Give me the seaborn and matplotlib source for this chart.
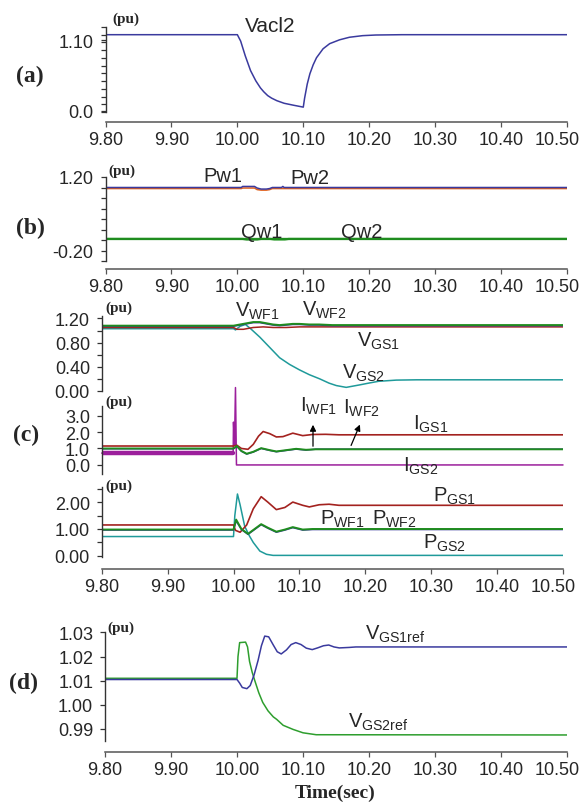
"""
Recreation of a four-panel transient response chart (Vacl2, wind farm / grid side
powers, voltages and currents, and GS voltage references) using seaborn.
"""

import numpy as np
import matplotlib
matplotlib.use('Agg')
import matplotlib.pyplot as plt
import seaborn as sns

# Figure size in pixels
W, H = 583, 804

# ---------------------------------------------------------------- data
XTICKS = [9.80, 9.90, 10.00, 10.10, 10.20, 10.30, 10.40, 10.50]
XTICK_LABELS = ['9.80', '9.90', '10.00', '10.10', '10.20', '10.30', '10.40', '10.50']

# (a) Vacl2
vacl_t = [9.80, 10.000, 10.005, 10.012, 10.020, 10.028, 10.035, 10.040, 10.046, 10.052,
          10.060, 10.071, 10.085, 10.100, 10.102, 10.106, 10.110, 10.115, 10.120, 10.130,
          10.140, 10.155, 10.170, 10.190, 10.210, 10.250, 10.500]
vacl_v = [1.19, 1.19, 1.09, 0.86, 0.63, 0.47, 0.36, 0.30, 0.24, 0.20,
          0.16, 0.12, 0.09, 0.06, 0.20, 0.42, 0.58, 0.72, 0.83, 0.97,
          1.05, 1.11, 1.15, 1.175, 1.185, 1.19, 1.19]

# (b) Pw1, Pw2, Qw1, Qw2
pw_t = [9.80, 10.006, 10.008, 10.026, 10.030, 10.036, 10.044, 10.049, 10.053, 10.067,
        10.069, 10.071, 10.50]
pw1 = [1.00, 1.00, 1.02, 1.02, 0.99, 0.97, 0.97, 0.98, 1.00, 1.00, 1.02, 1.00, 1.00]
pw2 = [0.98, 0.98, 0.99, 0.99, 0.96, 0.95, 0.95, 0.96, 0.98, 0.98, 0.98, 0.98, 0.98]
qw_t = [9.80, 10.008, 10.014, 10.030, 10.036, 10.050, 10.056, 10.072, 10.078, 10.50]
qw1 = [0.02, 0.02, 0.01, 0.01, 0.02, 0.02, 0.02, 0.02, 0.02, 0.02]
qw2 = [0.02, 0.02, 0.02, 0.02, 0.02, 0.02, 0.01, 0.01, 0.02, 0.02]

# (c) voltages
vwf_t = [9.80, 10.000, 10.010, 10.020, 10.030, 10.040, 10.050, 10.060, 10.070, 10.080,
         10.090, 10.100, 10.115, 10.130, 10.150, 10.500]
vwf1 = [1.08, 1.08, 1.10, 1.12, 1.14, 1.14, 1.12, 1.10, 1.09, 1.10,
        1.11, 1.11, 1.10, 1.10, 1.09, 1.09]
vwf2 = [1.07, 1.07, 1.09, 1.11, 1.13, 1.13, 1.11, 1.09, 1.08, 1.09,
        1.10, 1.10, 1.09, 1.09, 1.08, 1.08]
vgs1_t = [9.80, 10.000, 10.005, 10.015, 10.030, 10.045, 10.060, 10.080, 10.100, 10.500]
vgs1 = [1.05, 1.05, 1.02, 1.02, 1.05, 1.06, 1.05, 1.05, 1.06, 1.06]
vgs2_t = [9.80, 10.000, 10.003, 10.010, 10.018, 10.025, 10.040, 10.055, 10.070, 10.085,
          10.100, 10.115, 10.131, 10.145, 10.156, 10.171, 10.191, 10.205, 10.220, 10.247,
          10.278, 10.500]
vgs2 = [1.03, 1.03, 1.01, 1.07, 1.10, 1.04, 0.89, 0.72, 0.55, 0.44,
        0.35, 0.27, 0.20, 0.13, 0.09, 0.06, 0.10, 0.13, 0.16, 0.18,
        0.185, 0.185]

# (c) currents
igs1_t = [9.80, 10.000, 10.005, 10.012, 10.022, 10.030, 10.038, 10.045, 10.055, 10.065,
          10.075, 10.090, 10.105, 10.120, 10.140, 10.160, 10.500]
igs1 = [1.15, 1.15, 1.20, 1.00, 0.95, 1.25, 1.75, 2.03, 1.90, 1.70,
        1.72, 1.93, 1.78, 1.85, 1.86, 1.83, 1.83]
iwf_t = [9.80, 10.000, 10.005, 10.012, 10.020, 10.030, 10.042, 10.055, 10.065, 10.080,
         10.095, 10.110, 10.125, 10.500]
iwf1 = [1.00, 1.00, 1.15, 0.85, 0.68, 0.80, 1.02, 0.90, 0.82, 0.90, 0.98, 0.92, 0.95, 0.95]
iwf2 = [0.98, 0.98, 1.13, 0.83, 0.66, 0.78, 1.00, 0.88, 0.80, 0.88, 0.96, 0.90, 0.96, 0.96]
igs2_t = [9.80, 9.9995, 10.000, 10.0015, 10.003, 10.0045, 10.500]
igs2 = [0.72, 0.72, 2.6, 1.2, 4.7, 0.0, 0.0]

# (c) powers
pgs1_t = [9.80, 10.000, 10.003, 10.010, 10.020, 10.030, 10.042, 10.052, 10.065, 10.078,
          10.090, 10.105, 10.115, 10.130, 10.145, 10.160, 10.500]
pgs1 = [1.15, 1.15, 0.95, 0.88, 1.15, 1.75, 2.20, 2.00, 1.72, 1.80,
        2.00, 1.88, 1.82, 1.90, 1.92, 1.88, 1.88]
pwf_t = [9.80, 10.000, 10.004, 10.012, 10.022, 10.032, 10.042, 10.052, 10.065, 10.078,
         10.090, 10.105, 10.120, 10.500]
pwf1 = [0.98, 0.98, 1.35, 1.00, 0.82, 1.00, 1.18, 1.05, 0.90, 0.98, 1.07, 0.98, 1.00, 1.00]
pwf2 = [0.96, 0.96, 1.30, 0.98, 0.80, 0.98, 1.16, 1.03, 0.88, 0.96, 1.05, 0.96, 0.98, 0.98]
pgs2_t = [9.80, 10.000, 10.002, 10.006, 10.010, 10.017, 10.024, 10.030, 10.040, 10.050,
          10.060, 10.500]
pgs2 = [0.72, 0.72, 1.50, 2.30, 1.90, 1.10, 0.75, 0.50, 0.18, 0.06, 0.02, 0.02]

# (d) GS voltage references
vref1_t = [9.80, 10.000, 10.004, 10.008, 10.015, 10.020, 10.026, 10.032, 10.037, 10.042,
           10.048, 10.055, 10.061, 10.067, 10.075, 10.082, 10.089, 10.097, 10.105, 10.114,
           10.122, 10.131, 10.139, 10.147, 10.155, 10.170, 10.180, 10.500]
vref1 = [1.0105, 1.0105, 1.0090, 1.0072, 1.0067, 1.0080, 1.0125, 1.0185, 1.0245, 1.0285,
         1.0282, 1.0248, 1.0220, 1.0211, 1.0228, 1.0250, 1.0258, 1.0250, 1.0235, 1.0229,
         1.0236, 1.0245, 1.0248, 1.0240, 1.0236, 1.0238, 1.0240, 1.0240]
vref2_t = [9.80, 10.000, 10.0015, 10.004, 10.013, 10.016, 10.019, 10.023, 10.027, 10.033,
           10.039, 10.047, 10.055, 10.060, 10.070, 10.085, 10.100, 10.120, 10.500]
vref2 = [1.0110, 1.0110, 1.0200, 1.0258, 1.0260, 1.0240, 1.0180, 1.0135, 1.0100, 1.0050,
         1.0010, 0.9975, 0.9950, 0.9940, 0.9915, 0.9898, 0.9884, 0.9876, 0.9875]

# ---------------------------------------------------------------- colours
BLUE = '#3a3a9e'
ORANGE = '#e0601c'
GREEN = '#1f8c1f'
LGREEN = '#2e9e2e'
RED = '#a3221f'
TEAL = '#1f9a9a'
PURPLE = '#9c1f9c'

SANS = 'Liberation Sans'
SERIF = 'Liberation Serif'


def px_rect(x0, x1, y_top, y_bot):
    """Axes rectangle from pixel edges (y measured from the top)"""
    return [x0 / W, 1 - y_bot / H, (x1 - x0) / W, (y_bot - y_top) / H]


def fig_text(fig, x, y, s, size=14.5, family=SANS, weight='normal', ha='left'):
    """Place text at pixel position (y from top), vertically centred"""
    fig.text(x / W, 1 - y / H, s, fontsize=size, family=family, weight=weight,
             ha=ha, va='center')


def line(ax, t, v, color, lw=1.0, **kw):
    sns.lineplot(x=t, y=v, ax=ax, color=color, linewidth=lw, estimator=None,
                 sort=False, **kw)


def style_axis(ax, ylim, major, labels, minor=None, xaxis_px=None):
    """Left spine only, optional detached time axis below"""
    ax.set_xlim(9.80, 10.50)
    ax.set_ylim(ylim)
    ax.patch.set_alpha(0)
    for side in ['top', 'right']:
        ax.spines[side].set_visible(False)
    ax.spines['left'].set_color('#333333')
    ax.spines['left'].set_linewidth(1.0)
    ax.set_yticks(major)
    ax.set_yticklabels(labels)
    if minor is not None:
        ax.set_yticks(minor, minor=True)
    ax.tick_params(axis='y', which='both', direction='out', length=3.5, width=0.9,
                   color='#333333', labelsize=13, pad=5)
    ax.set_xlabel('')
    ax.set_ylabel('')
    if xaxis_px is None:
        ax.spines['bottom'].set_visible(False)
        ax.tick_params(axis='x', bottom=False, labelbottom=False)
    else:
        ax.spines['bottom'].set_position(('outward', xaxis_px * 72 / 100))
        ax.spines['bottom'].set_color('#555555')
        ax.spines['bottom'].set_linewidth(1.1)
        ax.set_xticks(XTICKS)
        ax.set_xticklabels(XTICK_LABELS)
        ax.tick_params(axis='x', direction='out', length=3.5, width=0.9,
                       color='#555555', labelsize=13, pad=3)
        # keep the last label inside the picture
        last = ax.get_xticklabels()[-1]
        last.set_ha('right')
        last.set_transform(last.get_transform() +
                           matplotlib.transforms.ScaledTranslation(13 / 100, 0, ax.figure.dpi_scale_trans))
    for lab in ax.get_yticklabels() + ax.get_xticklabels():
        lab.set_family(SANS)


def main():
    sns.set_style('ticks')
    plt.rcParams['font.family'] = [SANS, 'DejaVu Sans']
    plt.rcParams['mathtext.fontset'] = 'custom'
    plt.rcParams['mathtext.rm'] = SANS
    plt.rcParams['mathtext.it'] = SANS + ':italic'

    fig = plt.figure(figsize=(W / 100, H / 100), dpi=100)
    fig.patch.set_facecolor('white')

    # (a) Vacl2
    ax_a = fig.add_axes(px_rect(105.5, 567, 28, 113))
    line(ax_a, vacl_t, vacl_v, BLUE, 1.1)
    style_axis(ax_a, (-0.016, 1.31), [0.0, 1.10], ['0.0', '1.10'],
               minor=np.linspace(-0.016, 1.31, 12), xaxis_px=10)

    # (b) Pw / Qw
    ax_b = fig.add_axes(px_rect(105.5, 567, 178, 262))
    line(ax_b, pw_t, pw2, ORANGE, 1.1)
    line(ax_b, pw_t, pw1, BLUE, 1.1)
    line(ax_b, qw_t, qw2, LGREEN, 1.6)
    line(ax_b, qw_t, qw1, GREEN, 1.6)
    style_axis(ax_b, (-0.4, 1.2), [-0.2, 1.2], ['-0.20', '1.20'],
               minor=np.arange(-0.4, 1.21, 0.2), xaxis_px=8)

    # (c) voltages
    ax_c1 = fig.add_axes(px_rect(101.7, 563, 317, 392))
    line(ax_c1, vgs2_t, vgs2, TEAL, 1.1)
    line(ax_c1, vgs1_t, vgs1, RED, 1.1)
    line(ax_c1, vwf_t, vwf2, BLUE, 1.1)
    line(ax_c1, vwf_t, vwf1, GREEN, 1.4)
    style_axis(ax_c1, (0.0, 1.24), [0.0, 0.4, 0.8, 1.2], ['0.00', '0.40', '0.80', '1.20'],
               minor=np.arange(0.0, 1.21, 0.2))

    # (c) currents
    ax_c2 = fig.add_axes(px_rect(101.7, 563, 407, 475))
    line(ax_c2, igs2_t, igs2, PURPLE, 1.1, clip_on=False)
    ax_c2.lines[-1].set_clip_on(False)
    # noisy pre-fault band of I_GS2 drawn as a thick stroke
    line(ax_c2, igs2_t[:2], igs2[:2], PURPLE, 3.2)
    line(ax_c2, igs1_t, igs1, RED, 1.2)
    line(ax_c2, iwf_t, iwf2, BLUE, 1.1)
    line(ax_c2, iwf_t, iwf1, GREEN, 1.4)
    style_axis(ax_c2, (-0.55, 3.58), [0, 1, 2, 3], ['0.0', '1.0', '2.0', '3.0'])

    # (c) powers
    ax_c3 = fig.add_axes(px_rect(101.7, 563, 488, 558))
    line(ax_c3, pgs2_t, pgs2, TEAL, 1.1)
    line(ax_c3, pgs1_t, pgs1, RED, 1.2)
    line(ax_c3, pwf_t, pwf2, BLUE, 1.1)
    line(ax_c3, pwf_t, pwf1, GREEN, 1.4)
    style_axis(ax_c3, (-0.04, 2.56), [0, 1, 2], ['0.00', '1.00', '2.00'],
               minor=[0.5, 1.5, 2.5], xaxis_px=12)

    # (d) references
    ax_d = fig.add_axes(px_rect(105, 567, 633, 742))
    line(ax_d, vref2_t, vref2, LGREEN, 1.1)
    line(ax_d, vref1_t, vref1, BLUE, 1.1)
    style_axis(ax_d, (0.985, 1.0302), [0.99, 1.00, 1.01, 1.02, 1.03],
               ['0.99', '1.00', '1.01', '1.02', '1.03'], xaxis_px=11)

    # panel letters and units
    for s, x, y in [('(a)', 30, 76), ('(b)', 30, 228), ('(c)', 26, 435), ('(d)', 24, 683)]:
        fig_text(fig, x, y, s, size=17, family=SERIF, weight='bold', ha='center')
    for x, y in [(112, 19), (108, 171), (105, 308), (105, 402), (105, 486), (107, 628)]:
        fig_text(fig, x, y, '(pu)', size=11, family=SERIF, weight='bold')
    fig_text(fig, 335, 793, 'Time(sec)', size=14, family=SERIF, weight='bold', ha='center')

    # curve labels
    fig_text(fig, 245, 27, 'Vacl2', size=15)
    fig_text(fig, 203, 176, 'Pw1')
    fig_text(fig, 290, 179, 'Pw2')
    fig_text(fig, 241, 232, 'Qw1')
    fig_text(fig, 341, 232, 'Qw2')

    fig_text(fig, 235, 311, r'$\mathrm{V}_{\mathrm{WF1}}$')
    fig_text(fig, 302, 310, r'$\mathrm{V}_{\mathrm{WF2}}$')
    fig_text(fig, 357, 341, r'$\mathrm{V}_{\mathrm{GS1}}$')
    fig_text(fig, 342, 373, r'$\mathrm{V}_{\mathrm{GS2}}$')

    fig_text(fig, 300, 406, r'$\mathrm{I}_{\mathrm{WF1}}$')
    fig_text(fig, 343, 408, r'$\mathrm{I}_{\mathrm{WF2}}$')
    fig_text(fig, 413, 424, r'$\mathrm{I}_{\mathrm{GS1}}$')
    fig_text(fig, 403, 466, r'$\mathrm{I}_{\mathrm{GS2}}$')

    fig_text(fig, 433, 496, r'$\mathrm{P}_{\mathrm{GS1}}$')
    fig_text(fig, 320, 519, r'$\mathrm{P}_{\mathrm{WF1}}$')
    fig_text(fig, 372, 519, r'$\mathrm{P}_{\mathrm{WF2}}$')
    fig_text(fig, 423, 543, r'$\mathrm{P}_{\mathrm{GS2}}$')

    fig_text(fig, 365, 634, r'$\mathrm{V}_{\mathrm{GS1ref}}$')
    fig_text(fig, 348, 722, r'$\mathrm{V}_{\mathrm{GS2ref}}$')

    # arrows pointing at the wind farm currents
    for tail, head in [((313, 450), (313, 423)), ((350, 449), (361, 423))]:
        fig.add_artist(matplotlib.patches.FancyArrowPatch(
            (tail[0] / W, 1 - tail[1] / H), (head[0] / W, 1 - head[1] / H),
            transform=fig.transFigure, arrowstyle='-|>', mutation_scale=9,
            color='black', linewidth=0.9))

    fig.savefig('out.png', dpi=100)
    plt.close(fig)


if __name__ == '__main__':
    main()
